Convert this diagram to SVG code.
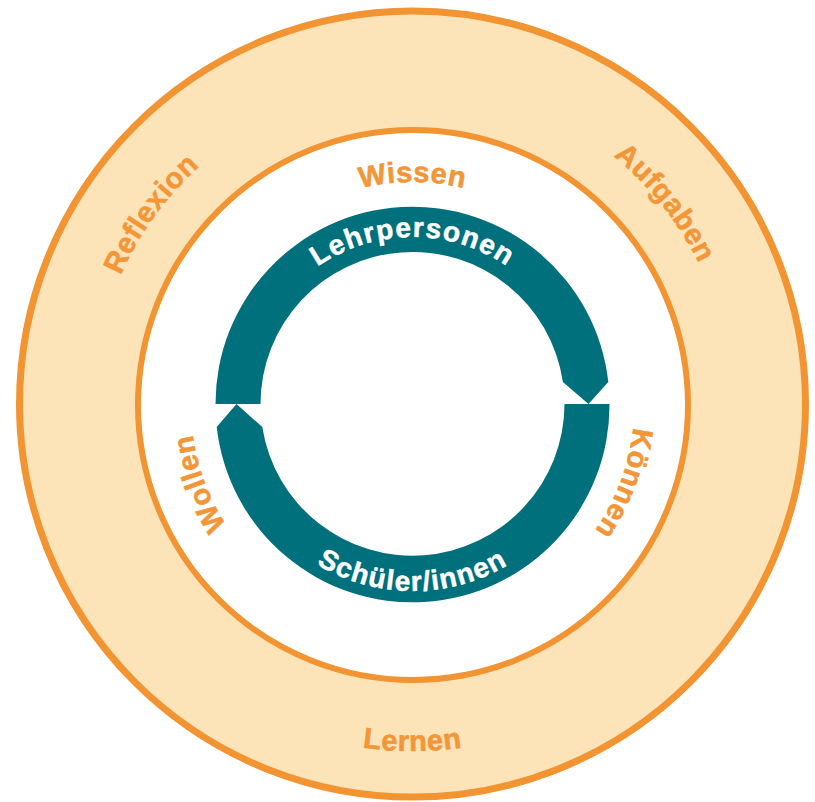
<svg xmlns="http://www.w3.org/2000/svg" xmlns:xlink="http://www.w3.org/1999/xlink" width="815" height="802" viewBox="0 0 815 802">
  <style>
    .ring { stroke: #F39433; }
    .lbl { font-family: "Liberation Sans", Arial, sans-serif; font-weight: bold; font-size: 29px; fill: #F39638; stroke: #F39638; stroke-width: 0.6px; letter-spacing: 0.6px; }
    .cyc { font-family: "Liberation Sans", Arial, sans-serif; font-weight: bold; font-size: 28px; fill: #FFFFFF; stroke: #FFFFFF; stroke-width: 0.5px; letter-spacing: 1.3px; }
    .arrow { fill: #00707C; }
  </style>
  <defs>
    <!-- clockwise circles, starting at the left point (tops of glyphs face outward) -->
    <path id="cw222" d="M 190.5 404 A 222 222 0 1 1 634.5 404 A 222 222 0 1 1 190.5 404"/>
    <path id="cw319" d="M 93.5 404 A 319 319 0 1 1 731.5 404 A 319 319 0 1 1 93.5 404"/>
    <path id="cw167" d="M 245.5 404 A 167 167 0 0 1 579.5 404"/>
    <!-- lower half circles, left to right (tops of glyphs face the centre) -->
    <path id="ccw187" d="M 225.5 404 A 187 187 0 0 0 599.5 404"/>
    <path id="ccw347" d="M 65.5 404 A 347 347 0 0 0 759.5 404"/>
  </defs>

  <!-- outer band: Lernen -->
  <g id="outer-ring">
    <circle class="ring" cx="412.5" cy="404" r="393" fill="#FDE3B8" stroke-width="7"/>
    <text class="lbl" text-anchor="middle"><textPath xlink:href="#cw319" href="#cw319" startOffset="10%">Reflexion</textPath></text>
    <text class="lbl" text-anchor="middle"><textPath xlink:href="#cw319" href="#cw319" startOffset="39.3%">Aufgaben</textPath></text>
    <text class="lbl" text-anchor="middle"><textPath xlink:href="#ccw347" href="#ccw347" startOffset="50%">Lernen</textPath></text>
  </g>

  <!-- inner disc: Wissen / Können / Wollen -->
  <g id="inner-ring">
    <circle class="ring" cx="413" cy="405" r="275" fill="#FFFFFF" stroke-width="6"/>
    <text class="lbl" text-anchor="middle"><textPath xlink:href="#cw222" href="#cw222" startOffset="25%">Wissen</textPath></text>
    <text class="lbl" text-anchor="middle"><textPath xlink:href="#cw222" href="#cw222" startOffset="55.7%">Können</textPath></text>
    <text class="lbl" text-anchor="middle"><textPath xlink:href="#cw222" href="#cw222" startOffset="94.3%">Wollen</textPath></text>
  </g>

  <!-- cycle between teachers and pupils -->
  <g id="connectors">
    <g id="lehrpersonen">
      <path class="arrow" d="M 215.5 404 A 197 197 0 0 1 608.3 382 L 588.5 404 L 562.9 382 A 152 152 0 0 0 260.5 404 Z"/>
      <text class="cyc" text-anchor="middle"><textPath xlink:href="#cw167" href="#cw167" startOffset="50%">Lehrpersonen</textPath></text>
    </g>
    <g id="schueler-innen">
      <path class="arrow" d="M 609.5 404 A 197 197 0 0 1 216.7 427 L 236.5 404 L 262.3 427 A 152 152 0 0 0 564.5 404 Z"/>
      <text class="cyc" text-anchor="middle"><textPath xlink:href="#ccw187" href="#ccw187" startOffset="50%">Schüler/innen</textPath></text>
    </g>
  </g>
</svg>
